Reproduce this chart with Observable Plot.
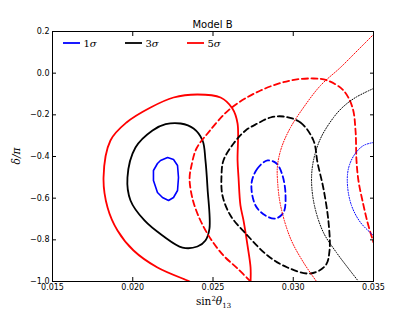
<!DOCTYPE html>
<html>
<head>
<meta charset="utf-8">
<script src="https://cdn.jsdelivr.net/npm/d3@7"></script>
<script src="https://cdn.jsdelivr.net/npm/@observablehq/plot@0.6"></script>
<style>
  html, body { margin: 0; padding: 0; background: #fff; }
</style>
</head>
<body>
<div id="chart"></div>
<script>
// ---- Data ----
const titleText = "Model B";
const xTicks = [0.015, 0.020, 0.025, 0.030, 0.035];
const xTickLabels = ["0.015", "0.020", "0.025", "0.030", "0.035"];
const yTicks = [0.2, 0.0, -0.2, -0.4, -0.6, -0.8, -1.0];
const yTickLabels = ["0.2", "0.0", "\u22120.2", "\u22120.4", "\u22120.6", "\u22120.8", "\u22121.0"];
const legendLabels = ["1", "3", "5"];
const legendColors = ["blue", "black", "red"];

// solid contours (closed loops unless noted)
const blueSolid = [[0.02217,-0.4048],[0.02254,-0.4144],[0.02279,-0.4432],[0.02285,-0.5008],[0.02279,-0.5632],[0.02254,-0.5968],[0.02223,-0.6112],[0.02185,-0.5968],[0.02154,-0.5728],[0.02129,-0.5152],[0.02129,-0.4672],[0.02154,-0.4336],[0.02173,-0.4192]];
const blackSolid = [[0.02298,-0.2416],[0.02379,-0.2656],[0.02435,-0.3232],[0.02453,-0.419],[0.02466,-0.5536],[0.02478,-0.7456],[0.02453,-0.803],[0.02403,-0.832],[0.0231,-0.837],[0.02185,-0.779],[0.02073,-0.707],[0.01986,-0.611],[0.01967,-0.501],[0.02017,-0.357],[0.02123,-0.275],[0.02205,-0.245]];
// open (both ends on the bottom edge)
const redSolid = [[0.02355,-1.0],[0.02341,-0.9952],[0.02154,-0.9328],[0.02005,-0.8512],[0.01905,-0.7552],[0.01843,-0.6448],[0.01818,-0.501],[0.01861,-0.3232],[0.01961,-0.2368],[0.02111,-0.1648],[0.02254,-0.1168],[0.02403,-0.1024],[0.02547,-0.1168],[0.02621,-0.1696],[0.02653,-0.2416],[0.02653,-0.419],[0.02659,-0.5008],[0.02671,-0.635],[0.0269,-0.707],[0.02715,-0.827],[0.02734,-0.933],[0.02734,-1.0]];

// dashed contours
const blueDashed = [[0.0284,-0.419],[0.02777,-0.4576],[0.0274,-0.5296],[0.02765,-0.6352],[0.02827,-0.6832],[0.02889,-0.6976],[0.02939,-0.6688],[0.02952,-0.5872],[0.02933,-0.4912],[0.02896,-0.4336]];
const blackDashed = [[0.02939,-0.208],[0.03045,-0.2368],[0.03126,-0.3232],[0.03151,-0.4288],[0.03188,-0.5536],[0.0322,-0.7168],[0.03226,-0.8512],[0.03201,-0.9232],[0.03107,-0.9616],[0.02964,-0.9328],[0.0284,-0.8752],[0.02715,-0.7792],[0.02609,-0.6832],[0.02559,-0.5872],[0.02553,-0.4912],[0.02565,-0.4192],[0.02628,-0.3376],[0.02703,-0.2752],[0.02777,-0.2416],[0.02858,-0.2128]];
const redDashed = [[0.02734,-1.0],[0.02653,-0.9376],[0.02565,-0.8752],[0.02484,-0.7936],[0.02416,-0.6976],[0.02372,-0.6016],[0.02354,-0.5056],[0.02366,-0.4432],[0.02397,-0.3616],[0.02466,-0.2896],[0.02609,-0.1696],[0.02796,-0.0832],[0.02983,-0.0352],[0.03126,-0.0256],[0.03213,-0.0352],[0.03313,-0.0832],[0.03369,-0.1648],[0.03388,-0.2752],[0.03394,-0.419],[0.03406,-0.5152],[0.03431,-0.6112],[0.03463,-0.7168],[0.035,-0.8128]];

// dotted contours (open, cut by the frame)
const blueDotted = [[0.035,-0.3328],[0.03438,-0.3472],[0.03382,-0.3904],[0.03344,-0.4576],[0.03338,-0.5392],[0.03363,-0.6352],[0.03419,-0.7168],[0.035,-0.7792]];
const blackDotted = [[0.035,-0.0736],[0.03388,-0.1168],[0.03313,-0.16],[0.03251,-0.2128],[0.0317,-0.3136],[0.03126,-0.419],[0.03114,-0.5152],[0.03132,-0.6352],[0.03188,-0.7648],[0.03269,-0.8608],[0.03344,-0.9376],[0.03407,-1.0]];
const redDotted = [[0.035,0.1856],[0.03388,0.0992],[0.03294,0.0272],[0.0317,-0.0592],[0.03064,-0.1648],[0.02983,-0.2608],[0.02927,-0.3568],[0.02902,-0.4432],[0.02902,-0.5152],[0.02921,-0.6352],[0.02983,-0.7936],[0.03064,-0.9088],[0.03145,-1.0]];

// ---- Styles ----
const dash = "6,3.5";
const dot = "1,1.6";
const curves = [
  {data: blueSolid, color: "blue", dash: null, w: 1.6, curve: "linear-closed"},
  {data: blackSolid, color: "black", dash: null, w: 1.8, curve: "catmull-rom-closed"},
  {data: redSolid, color: "red", dash: null, w: 1.8, curve: "catmull-rom"},
  {data: blueDashed, color: "blue", dash: dash, w: 1.8, curve: "catmull-rom-closed"},
  {data: blackDashed, color: "black", dash: dash, w: 1.8, curve: "catmull-rom-closed"},
  {data: redDashed, color: "red", dash: dash, w: 1.8, curve: "catmull-rom"},
  {data: blueDotted, color: "blue", dash: dot, w: 1, curve: "catmull-rom"},
  {data: blackDotted, color: "black", dash: dot, w: 1, curve: "catmull-rom"},
  {data: redDotted, color: "red", dash: dot, w: 1, curve: "catmull-rom"}
];

const fmtX = d => xTickLabels[xTicks.indexOf(d)];
const fmtY = d => yTickLabels[yTicks.findIndex(v => Math.abs(v - d) < 1e-9)];

const plot = Plot.plot({
  width: 415,
  height: 312,
  marginLeft: 52,
  marginRight: 42,
  marginTop: 31,
  marginBottom: 31,
  style: {fontFamily: "DejaVu Sans", fontSize: "8px", background: "#fff", color: "#000"},
  x: {domain: [0.015, 0.035]},
  y: {domain: [-1.0, 0.2]},
  marks: [
    ...curves.map(c => Plot.line(c.data, {
      x: d => d[0], y: d => d[1], stroke: c.color, strokeWidth: c.w,
      strokeDasharray: c.dash, curve: c.curve, clip: true
    })),
    Plot.frame({stroke: "#000", strokeWidth: 1}),
    Plot.axisX(xTicks, {anchor: "bottom", tickSize: -4, tickPadding: 7, tickFormat: fmtX, label: null}),
    Plot.axisX(xTicks, {anchor: "top", tickSize: -4, fill: "none", label: null}),
    Plot.axisY(yTicks, {anchor: "left", tickSize: -4, tickPadding: 7, tickFormat: fmtY, label: null}),
    Plot.axisY(yTicks, {anchor: "right", tickSize: -4, fill: "none", label: null})
  ]
});

document.getElementById("chart").appendChild(plot);

// Title, axis labels and legend drawn into the SVG
const svg = d3.select(plot);
const cx = (52 + 373) / 2;
svg.append("text")
  .attr("x", cx).attr("y", 27.5)
  .attr("text-anchor", "middle")
  .style("font-family", "DejaVu Sans").style("font-size", "10px")
  .text(titleText);

const xl = svg.append("text")
  .attr("x", cx + 1).attr("y", 305)
  .attr("text-anchor", "middle")
  .style("font-family", "DejaVu Serif").style("font-size", "10.5px");
xl.append("tspan").text("sin");
xl.append("tspan").attr("dy", -4).style("font-size", "7px").text("2");
xl.append("tspan").attr("dy", 4).style("font-style", "italic").text("\u03b8");
xl.append("tspan").attr("dy", 2.5).style("font-size", "7px").text("13");

svg.append("text")
  .attr("transform", "translate(20,156) rotate(-90)")
  .attr("text-anchor", "middle")
  .style("font-family", "DejaVu Serif").style("font-size", "10.5px").style("font-style", "italic")
  .text("\u03b4/\u03c0");

const legX = [63, 125, 187];
legendLabels.forEach((lab, i) => {
  svg.append("line")
    .attr("x1", legX[i]).attr("x2", legX[i] + 17)
    .attr("y1", 43).attr("y2", 43)
    .attr("stroke", legendColors[i]).attr("stroke-width", 1.8);
  const t = svg.append("text")
    .attr("x", legX[i] + 27).attr("y", 47)
    .style("font-family", "DejaVu Serif").style("font-size", "10px");
  t.append("tspan").text(lab);
  t.append("tspan").style("font-style", "italic").text("\u03c3");
});
</script>
</body>
</html>
